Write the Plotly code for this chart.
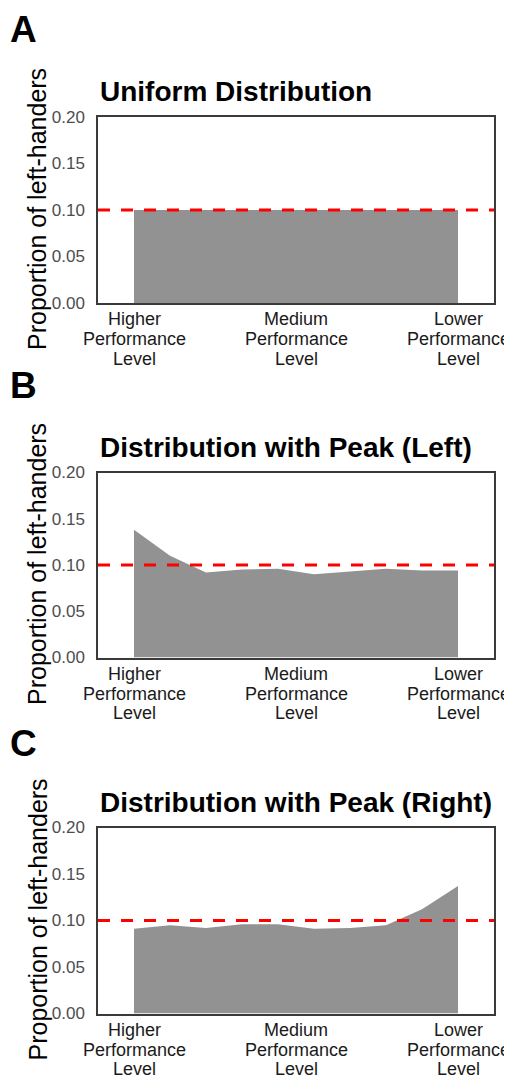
import plotly.graph_objects as go

# ---- data ----
positions = [1, 2, 3, 4, 5, 6, 7, 8, 9, 10]
uniform_vals = [0.10, 0.10, 0.10, 0.10, 0.10, 0.10, 0.10, 0.10, 0.10, 0.10]
peak_left_vals = [0.138, 0.110, 0.092, 0.095, 0.096, 0.090, 0.093, 0.096, 0.094, 0.094]
peak_right_vals = [0.091, 0.095, 0.092, 0.096, 0.096, 0.091, 0.092, 0.095, 0.112, 0.137]
reference_level = 0.10
x_tick_vals = [1, 5.5, 10]
x_tick_lines = [["Higher", "Performance", "Level"],
                ["Medium", "Performance", "Level"],
                ["Lower", "Performance", "Level"]]
y_tick_vals = [0.00, 0.05, 0.10, 0.15, 0.20]
panel_titles = ["Uniform Distribution", "Distribution with Peak (Left)", "Distribution with Peak (Right)"]
panel_letters = ["A", "B", "C"]
y_title = "Proportion of left-handers"

W, H = 512, 1077
OFF = 8  # page body margin compensation
FONT = "Arial, Liberation Sans, sans-serif"

# plot boxes in pixels (top, bottom)
boxes = [(117, 303), (472.5, 657.5), (827.5, 1013.5)]
x_left, x_right = 98, 494
letter_y = [29, 385, 743]
line_offsets = [16, 36, 55.5]

def py(p):
    return 1 - (p - OFF) / H

def px(p):
    return (p - OFF) / W

fig = go.Figure()
series = [uniform_vals, peak_left_vals, peak_right_vals]
annotations = []
for i, vals in enumerate(series):
    n = i + 1
    xa = "x" if n == 1 else f"x{n}"
    ya = "y" if n == 1 else f"y{n}"
    fig.add_trace(go.Scatter(
        x=positions, y=vals, mode="lines", fill="tozeroy",
        fillcolor="#929292", line=dict(width=0, color="#929292"),
        xaxis=xa, yaxis=ya, showlegend=False, hoverinfo="skip"))
    fig.add_trace(go.Scatter(
        x=[0, 11], y=[reference_level, reference_level], mode="lines",
        line=dict(color="#ff0000", width=3.2, dash="12px,11px"),
        xaxis=xa, yaxis=ya, showlegend=False, hoverinfo="skip"))
    top, bot = boxes[i]
    dom_y = [py(bot), py(top)]
    axis_common = dict(showline=True, mirror=True, linecolor="#3a3a3a", linewidth=1.5,
                       showgrid=False, zeroline=False, ticks="", automargin=False)
    fig.layout[f"xaxis{'' if n == 1 else n}"] = dict(
        domain=[px(x_left), px(x_right)], range=[0, 11], anchor=ya,
        tickvals=x_tick_vals, showticklabels=False, **axis_common)
    fig.layout[f"yaxis{'' if n == 1 else n}"] = dict(
        domain=dom_y, range=[0, 0.2], anchor=xa,
        tickvals=y_tick_vals, tickformat=".2f",
        tickfont=dict(family=FONT, size=17, color="#4d4d4d"),
        ticklabelstandoff=8, **axis_common)
    # x tick labels, one annotation per text line (tight line spacing)
    for tv, lines in zip(x_tick_vals, x_tick_lines):
        for off, txt in zip(line_offsets, lines):
            annotations.append(dict(
                text=txt, xref=xa, yref="paper", x=tv, y=py(bot + off),
                xanchor="center", yanchor="middle", showarrow=False,
                font=dict(family=FONT, size=18, color="#1a1a1a")))
    annotations.append(dict(
        text=f"<b>{panel_titles[i]}</b>", xref="paper", yref="paper",
        x=px(x_left), y=py(top - 8), xanchor="left", yanchor="bottom",
        showarrow=False, font=dict(family=FONT, size=28, color="#000000")))
    annotations.append(dict(
        text=f"<b>{panel_letters[i]}</b>", xref="paper", yref="paper",
        x=px(23), y=py(letter_y[i]), xanchor="center", yanchor="middle",
        showarrow=False, font=dict(family=FONT, size=37, color="#000000")))
    annotations.append(dict(
        text=y_title, xref="paper", yref="paper", textangle=-90,
        x=px(37), y=py((top + bot) / 2 - 1), xanchor="center", yanchor="middle",
        showarrow=False, font=dict(family=FONT, size=25, color="#000000")))

fig.update_layout(
    width=W, height=H, margin=dict(l=0, r=0, t=0, b=0, autoexpand=False),
    paper_bgcolor="white", plot_bgcolor="white",
    annotations=annotations, showlegend=False)

fig.write_html("out.html")
